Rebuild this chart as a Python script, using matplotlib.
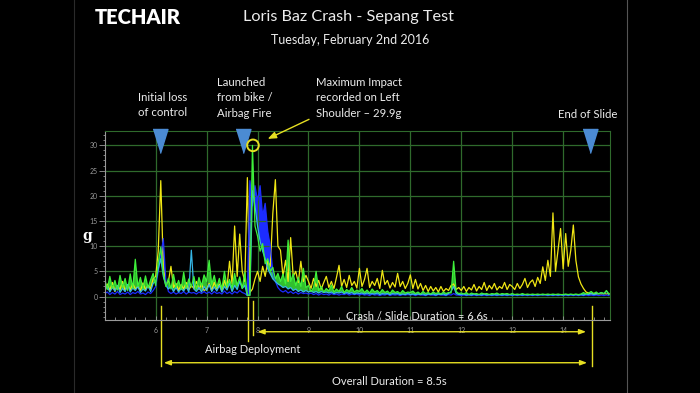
import numpy as np
import matplotlib.pyplot as plt
from matplotlib.ticker import MultipleLocator

plt.rcParams['font.family'] = ['Lato', 'DejaVu Sans']

# ---------- data (g, sampled every 0.05 s from 5.00 s to 14.90 s) ----------
time_s = np.linspace(5.0, 14.9, 199)

green_g = [
    3.5, 1.4, 4.0, 1.6, 3.2, 1.3, 4.2, 1.8, 3.6, 1.2, 4.5, 1.6, 7.4, 2.0, 3.8, 1.5, 4.1, 1.7, 3.3, 4.6,
    2.2, 6.8, 9.8, 4.5, 2.0, 3.6, 1.5, 4.4, 1.8, 3.2, 1.4, 4.8, 1.6, 3.5, 1.9, 4.0, 1.5, 3.8, 2.1, 4.3,
    3.0, 7.2, 2.4, 4.2, 1.8, 3.6, 1.5, 5.0, 2.0, 3.4, 1.7, 4.6, 2.2, 3.9, 1.6, 4.8, 0.3, 0.2, 30.0, 14.0,
    12.0, 9.0, 10.5, 6.5, 7.5, 5.0, 5.8, 3.5, 4.6, 3.0, 4.5, 2.5, 11.2, 3.0, 4.5, 2.2, 3.8, 2.0, 5.6, 1.8,
    2.2, 1.0, 1.8, 5.0, 1.2, 2.0, 0.9, 1.6, 1.1, 2.3, 0.9, 1.5, 1.0, 2.0, 0.8, 1.4, 1.0, 1.8, 0.9, 1.3,
    1.0, 1.6, 0.8, 1.3, 0.7, 1.5, 0.9, 1.2, 0.7, 1.4, 0.8, 1.1, 0.6, 1.3, 0.8, 1.0, 0.6, 1.2, 0.7, 0.9,
    0.8, 1.1, 0.6, 0.9, 0.5, 1.0, 0.6, 0.8, 0.5, 0.9, 0.6, 0.8, 0.5, 0.9, 0.6, 0.8, 0.7, 7.0, 1.0, 0.6,
    0.7, 0.5, 0.8, 0.4, 0.7, 0.5, 0.6, 0.4, 0.7, 0.5, 0.6, 0.4, 0.6, 0.5, 0.7, 0.4, 0.6, 0.5, 0.6, 0.4,
    0.6, 0.4, 0.5, 0.4, 0.6, 0.4, 0.5, 0.4, 0.5, 0.4, 0.5, 0.4, 0.5, 0.4, 0.5, 0.4, 0.5, 0.4, 0.5, 0.4,
    0.4, 0.5, 0.4, 0.5, 0.4, 0.5, 0.4, 0.5, 0.8, 0.5, 0.7, 1.0, 0.6, 0.9, 0.5, 0.8, 0.6, 1.2, 0.5,
]

yellow_g = [
    1.5, 2.5, 1.2, 2.8, 1.0, 2.2, 1.4, 3.0, 1.1, 2.4, 1.3, 2.6, 1.5, 2.0, 1.2, 2.7, 1.4, 2.2, 1.6, 3.5,
    4.0, 9.0, 23.0, 6.0, 2.5, 3.0, 6.0, 1.8, 2.6, 1.2, 2.4, 1.5, 2.8, 1.3, 2.2, 1.6, 3.0, 1.4, 2.5, 1.2,
    1.5, 2.6, 1.2, 2.8, 1.6, 2.4, 1.3, 3.2, 1.8, 7.0, 2.5, 14.0, 4.0, 12.4, 5.0, 3.0, 23.6, 0.8, 1.5, 3.5,
    5.0, 3.0, 6.0, 4.0, 7.0, 6.0, 16.5, 23.2, 10.0, 9.2, 4.0, 7.2, 3.0, 11.7, 4.0, 5.0, 2.8, 7.0, 3.0, 4.2,
    3.0, 1.6, 3.6, 2.0, 3.2, 1.5, 2.8, 4.0, 1.8, 3.0, 1.6, 3.8, 6.2, 2.0, 3.4, 1.8, 4.2, 2.2, 3.0, 1.7,
    5.6, 2.0, 3.4, 5.6, 1.8, 3.0, 2.2, 3.6, 1.6, 5.2, 2.4, 3.2, 1.7, 2.8, 1.9, 4.6, 2.0, 3.0, 1.6, 2.6,
    4.3, 1.6, 3.4, 1.5, 2.6, 1.2, 2.2, 1.0, 2.0, 1.1, 1.8, 0.9, 2.0, 1.0, 1.6, 1.2, 2.2, 2.5, 1.4, 1.8,
    1.2, 2.0, 1.0, 1.8, 1.3, 2.4, 1.1, 2.0, 1.4, 2.8, 1.2, 2.2, 1.5, 2.6, 1.3, 2.0, 1.6, 2.8, 1.4, 2.4,
    2.0, 1.4, 2.6, 1.6, 2.4, 3.6, 1.8, 2.8, 3.3, 2.0, 3.8, 2.6, 5.9, 3.2, 7.2, 4.0, 16.6, 5.0, 9.2, 13.5,
    5.5, 12.5, 6.0, 9.2, 14.2, 7.2, 3.9, 2.5, 1.6, 0.9, 0.7, 0.5, 0.6, 0.5, 0.6, 0.5, 0.6, 0.5, 0.6,
]

blue_g = [
    0.6, 0.9, 0.4, 0.8, 0.5, 1.0, 0.4, 0.7, 0.5, 0.9, 0.4, 0.8, 0.6, 1.0, 0.5, 0.7, 0.4, 0.9, 0.6, 1.2,
    2.0, 5.0, 8.0, 11.5, 3.0, 1.0, 0.6, 0.9, 0.5, 0.8, 0.6, 1.0, 0.5, 0.9, 0.7, 0.8, 0.5, 0.9, 0.6, 1.0,
    0.6, 0.9, 0.5, 1.0, 0.6, 0.8, 0.5, 1.1, 0.6, 0.9, 0.5, 1.0, 0.7, 1.2, 0.8, 0.6, 0.2, 23.0, 18.0, 22.0,
    19.0, 22.0, 16.0, 18.5, 13.0, 10.0, 5.0, 3.0, 1.8, 1.2, 0.9, 1.2, 0.7, 1.0, 0.6, 0.9, 0.5, 0.8, 0.6, 0.7,
    0.5, 0.7, 0.4, 0.6, 0.3, 0.6, 0.4, 0.5, 0.3, 0.6, 0.4, 0.5, 0.3, 0.5, 0.4, 0.6, 0.3, 0.5, 0.4, 0.5,
    0.3, 0.5, 0.3, 0.4, 0.2, 0.5, 0.3, 0.4, 0.2, 0.4, 0.3, 0.5, 0.2, 0.4, 0.3, 0.4, 0.2, 0.4, 0.3, 0.4,
    0.3, 0.4, 0.2, 0.4, 0.3, 0.3, 0.2, 0.4, 0.3, 0.3, 0.2, 0.4, 0.3, 0.3, 0.2, 0.4, 0.3, 0.6, 0.3, 0.3,
    0.2, 0.3, 0.2, 0.3, 0.2, 0.3, 0.2, 0.3, 0.2, 0.3, 0.2, 0.3, 0.2, 0.3, 0.2, 0.3, 0.2, 0.3, 0.2, 0.3,
    0.2, 0.3, 0.2, 0.3, 0.2, 0.3, 0.2, 0.3, 0.2, 0.3, 0.2, 0.3, 0.4, 0.3, 0.2, 0.3, 0.2, 0.3, 0.2, 0.3,
    0.2, 0.3, 0.2, 0.3, 0.2, 0.3, 0.2, 0.3, 0.2, 0.3, 0.2, 0.3, 0.2, 0.3, 0.2, 0.3, 0.2, 0.3, 0.2,
]

cyan_g = [
    1.2, 2.0, 0.9, 1.8, 1.1, 2.2, 0.8, 1.6, 1.0, 2.4, 0.9, 1.7, 1.2, 2.0, 0.8, 1.5, 1.1, 2.2, 1.0, 2.6,
    3.0, 5.5, 7.5, 4.0, 2.2, 1.5, 2.0, 1.0, 1.8, 0.9, 1.6, 1.1, 2.0, 0.9, 9.2, 1.5, 1.0, 1.8, 0.9, 2.0,
    1.2, 2.4, 1.0, 1.9, 1.1, 2.2, 0.9, 2.0, 1.3, 2.6, 1.0, 2.2, 1.4, 3.0, 1.6, 2.2, 0.2, 0.3, 21.0, 18.0,
    14.0, 11.0, 9.0, 7.5, 5.5, 4.5, 3.5, 3.0, 2.5, 2.2, 1.8, 2.0, 1.5, 1.8, 1.2, 1.5, 1.0, 1.3, 0.9, 1.2,
    0.9, 1.1, 0.8, 1.0, 0.7, 1.0, 0.8, 0.9, 0.7, 0.9, 0.6, 0.8, 0.7, 0.9, 0.6, 0.8, 0.6, 0.8, 0.5, 0.7,
    0.6, 0.7, 0.5, 0.7, 0.5, 0.6, 0.5, 0.7, 0.4, 0.6, 0.5, 0.6, 0.4, 0.6, 0.5, 0.6, 0.4, 0.5, 0.4, 0.6,
    0.4, 0.5, 0.4, 0.5, 0.4, 0.5, 0.3, 0.5, 0.4, 0.5, 0.3, 0.5, 0.4, 0.5, 0.3, 0.6, 1.0, 2.0, 0.6, 0.4,
    0.4, 0.5, 0.3, 0.4, 0.3, 0.5, 0.3, 0.4, 0.3, 0.5, 0.3, 0.4, 0.3, 0.4, 0.3, 0.4, 0.3, 0.4, 0.3, 0.4,
    0.3, 0.4, 0.3, 0.4, 0.3, 0.4, 0.3, 0.4, 0.3, 0.4, 0.3, 0.4, 0.3, 0.4, 0.3, 0.4, 0.3, 0.4, 0.3, 0.4,
    0.3, 0.4, 0.3, 0.4, 0.3, 0.4, 0.3, 0.4, 0.3, 0.5, 0.4, 0.6, 0.4, 0.5, 0.6, 0.8, 0.5, 1.1, 0.4,
]

# events marked with triangles (s)
event_t = [6.08, 7.71, 14.52]
peak_t, peak_g = 7.91, 29.9

# ---------- style ----------
YEL = '#f0e614'
GRN = '#3ef03a'
BLU = '#1c2cff'
CYN = '#35b6e6'
ANN = '#e6df22'
GRID = '#2f6a2c'
TXT = '#ececec'
GREY = '#9a9a9a'
TRI = '#4b8bd3'
FS = 8.2

fig = plt.figure(figsize=(7, 3.93), dpi=100, facecolor='black')
ax = fig.add_axes([105/700, 73/393, 505/700, 189/393], facecolor='black')

cy = np.array(cyan_g)
bl = np.array(blue_g)
gr = np.array(green_g)

ax.plot(time_s, yellow_g, color=YEL, lw=0.9)
# blue body only where blue rises above the cyan trace (impact burst)
ax.fill_between(time_s, cy, bl, where=bl > cy, color=BLU, lw=0, interpolate=True)
ax.plot(time_s, blue_g, color=BLU, lw=0.9)
ax.plot(time_s, cyan_g, color=CYN, lw=0.9)
# green noise reads as a band between cyan and green traces
ax.fill_between(time_s, cy, gr, where=gr > cy, color=GRN, alpha=0.8, lw=0, interpolate=True)
ax.plot(time_s, green_g, color=GRN, lw=0.9)

ax.set_xlim(5.005, 14.92)
ax.set_ylim(-4.65, 32.85)
ax.xaxis.set_minor_locator(MultipleLocator(0.2))
ax.set_xticks(range(6, 15))
ax.set_yticks(range(0, 31, 5))
ax.yaxis.set_minor_locator(MultipleLocator(1))
ax.grid(True, which='major', color=GRID, lw=0.9)
ax.tick_params(axis='both', which='both', colors=GREY, labelsize=5, width=0.6)
ax.tick_params(axis='y', which='major', direction='out', length=4, pad=1)
ax.tick_params(axis='y', which='minor', direction='out', length=1.5)
ax.tick_params(axis='x', which='major', direction='in', length=3, pad=5)
ax.tick_params(axis='x', which='minor', direction='in', length=2)
for s in ('left', 'bottom'):
    ax.spines[s].set_color(GREY)
for s in ('top', 'right'):
    ax.spines[s].set_color(GRID)

# triangles + max impact circle
tri = [(-0.62, 1), (0.62, 1), (0, -1)]
ax.scatter(event_t, [30.85] * len(event_t), marker=tri, s=17.3**2, color=TRI,
           clip_on=False, zorder=5)
ax.scatter([peak_t], [30.0], marker='o', s=70, facecolor='none', edgecolor=ANN,
           lw=1.4, clip_on=False, zorder=6)
ax.annotate('', xy=(8.15, 31.05), xytext=(9.06, 35.4), annotation_clip=False,
            arrowprops=dict(arrowstyle='-|>,head_length=0.5,head_width=0.2', color=ANN, lw=1))

# labels above the plot
ax.text(6.14, 38.0, 'Initial loss\nof control', color=TXT, fontsize=FS, ha='center',
        va='center', linespacing=1.45, clip_on=False)
ax.text(7.2, 39.4, 'Launched\nfrom bike /\nAirbag Fire', color=TXT, fontsize=FS, ha='left',
        va='center', linespacing=1.45, clip_on=False)
ax.text(9.14, 39.4, 'Maximum Impact\nrecorded on Left\nShoulder \u2013 29.9g', color=TXT,
        fontsize=FS, ha='left', va='center', linespacing=1.45, clip_on=False)
ax.text(14.48, 36.2, 'End of Slide', color=TXT, fontsize=FS, ha='center', va='center',
        clip_on=False)

# durations below the plot
ax.plot([7.817, 7.817], [0, -8.8], color=ANN, lw=1, clip_on=False)
ax.plot([7.91, 7.91], [-0.9, -7.6], color=ANN, lw=1, clip_on=False)
ax.plot([6.098, 6.098], [-1.9, -13.8], color=ANN, lw=1, clip_on=False)
ax.plot([14.557, 14.557], [-1.9, -13.8], color=ANN, lw=1, clip_on=False)
arr = dict(arrowstyle='<|-|>,head_length=0.4,head_width=0.15', color=ANN, lw=1,
           shrinkA=0, shrinkB=0)
ax.annotate('', xy=(8.0, -6.98), xytext=(14.45, -6.98), arrowprops=arr, annotation_clip=False)
ax.annotate('', xy=(6.16, -13.13), xytext=(14.47, -13.13), arrowprops=arr, annotation_clip=False)
ax.text(11.13, -3.87, 'Crash / Slide Duration = 6.6s', color=TXT, fontsize=8, ha='center',
        va='center', clip_on=False)
ax.text(7.91, -10.5, 'Airbag Deployment', color=TXT, fontsize=8, ha='center', va='center',
        clip_on=False)
ax.text(10.58, -16.9, 'Overall Duration = 8.5s', color=TXT, fontsize=8, ha='center',
        va='center', clip_on=False)

# titles, logo, axis label
fig.text(348/700, 1 - 17/393, 'Loris Baz Crash - Sepang Test', color=TXT, fontsize=11.7,
         ha='center', va='center')
fig.text(350/700, 1 - 40/393, 'Tuesday, February 2nd 2016', color=TXT, fontsize=9,
         ha='center', va='center')
fig.text(95/700, 1 - 18/393, 'TECHAIR', color='white', fontsize=14.5, fontweight='heavy',
         ha='left', va='center')
fig.text(87/700, 1 - 236/393, 'g', color='white', fontsize=10, fontweight='bold',
         family='DejaVu Serif', ha='center', va='center')

# faint slide frame lines
fig.add_artist(plt.Line2D([74/700, 74/700], [0, 1], transform=fig.transFigure,
                          color='#2a2a2a', lw=0.8))
fig.add_artist(plt.Line2D([626.5/700, 626.5/700], [0, 1], transform=fig.transFigure,
                          color='#555555', lw=0.8))

fig.savefig('out.png', dpi=100, facecolor='black')
